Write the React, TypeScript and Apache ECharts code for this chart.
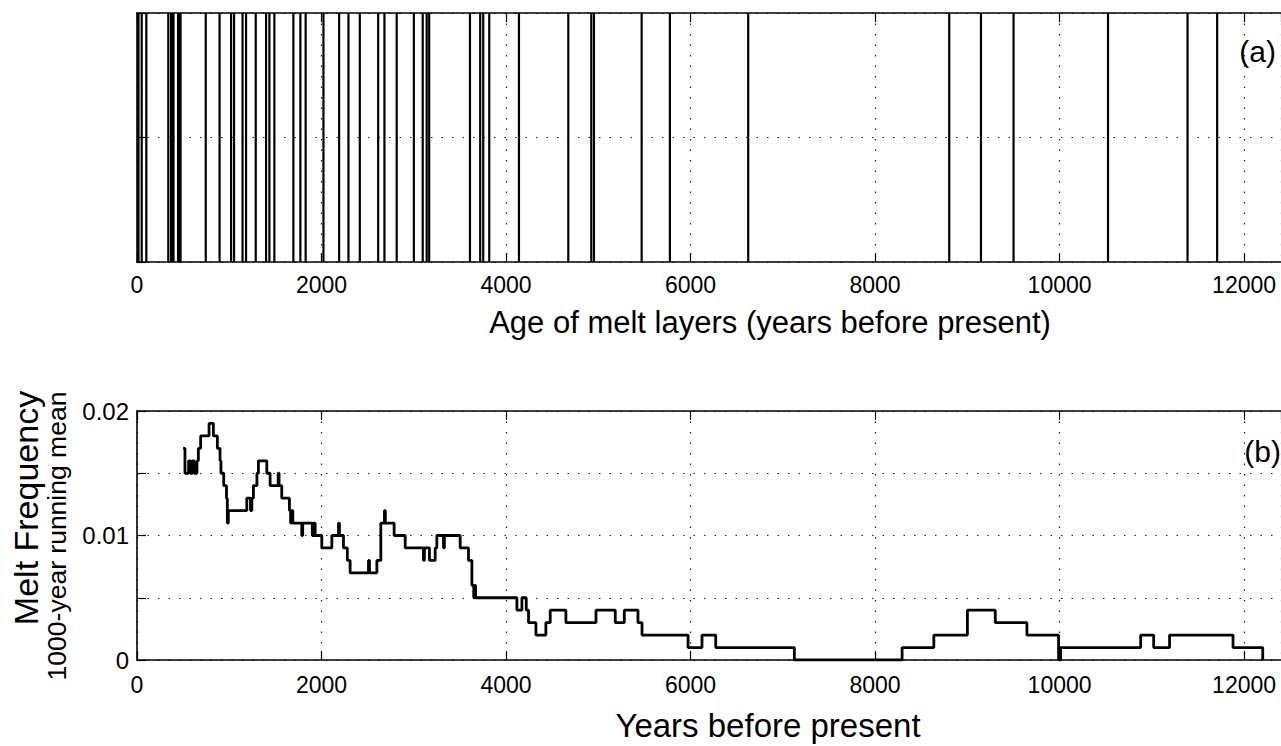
import React, { useEffect, useRef } from "react";
import * as echarts from "echarts";

// Ages (years before present) of individual melt layers (panel a)
const layerAges = [
  16, 51, 101, 339, 369, 382, 396, 445, 460, 472, 745, 895, 1020, 1052, 1144,
  1182, 1287, 1399, 1435, 1489, 1695, 1771, 1828, 2021, 2191, 2292, 2415,
  2614, 2682, 2815, 3001, 3097, 3140, 3167, 3609, 3720, 3753, 3818, 4140,
  4675, 4924, 4953, 5470, 5776, 6625, 8804, 9148, 9501, 10525, 11387, 11708,
];

// 1000-year running mean melt frequency (panel b): value holds from year onward
const stepYears = [
  500, 520, 560, 580, 600, 620, 650, 665, 690, 781, 828, 871, 900, 910, 940,
  970, 979, 990, 1190, 1230, 1245, 1262, 1300, 1316, 1407, 1443, 1530, 1540,
  1569, 1652, 1665, 1675, 1689, 1786, 1796, 1900, 1915, 1931, 2003, 2112,
  2184, 2194, 2238, 2280, 2310, 2509, 2520, 2600, 2643, 2682, 2692, 2787,
  2907, 3105, 3115, 3170, 3232, 3250, 3322, 3332, 3503, 3593, 3630, 3650,
  3660, 3670, 4118, 4172, 4219, 4244, 4324, 4432, 4479, 4649, 4975, 5184,
  5282, 5430, 5474, 5973, 6124, 6273, 7125, 8293, 8637, 9001, 9303, 9646,
  9989, 10011, 10879, 11020, 11192, 11880, 12202,
];
const stepValues = [
  0.017, 0.015, 0.016, 0.015, 0.016, 0.015, 0.016, 0.017, 0.018, 0.019,
  0.018, 0.017, 0.016, 0.015, 0.014, 0.013, 0.011, 0.012, 0.013, 0.012,
  0.013, 0.014, 0.015, 0.016, 0.015, 0.014, 0.015, 0.014, 0.013, 0.012,
  0.011, 0.012, 0.011, 0.01, 0.011, 0.01, 0.011, 0.01, 0.009, 0.01, 0.011,
  0.01, 0.009, 0.008, 0.007, 0.008, 0.007, 0.008, 0.011, 0.012, 0.011, 0.01,
  0.009, 0.008, 0.009, 0.008, 0.009, 0.01, 0.009, 0.01, 0.009, 0.008, 0.006,
  0.005, 0.006, 0.005, 0.004, 0.005, 0.004, 0.003, 0.002, 0.003, 0.004,
  0.003, 0.004, 0.003, 0.004, 0.003, 0.002, 0.001, 0.002, 0.001, 0, 0.001,
  0.002, 0.004, 0.003, 0.002, 0, 0.001, 0.002, 0.001, 0.002, 0.001, 0,
];

const xAxisMax = 12400;
const FONT = "'Liberation Sans', Arial, Helvetica, sans-serif";

export default function App() {
  const ref = useRef<HTMLDivElement>(null);
  useEffect(() => {
    if (!ref.current) return;
    const chart = echarts.init(ref.current, null, { renderer: "svg" });
    const axisLine = { show: true, lineStyle: { color: "#000", width: 1.6 } };
    const tickIn = { show: true, inside: true, length: 9, lineStyle: { color: "#000", width: 1.2 } };
    const dotted = { show: true, lineStyle: { color: "#222", width: 1.2, type: [1.5, 9] as any } };
    const xLabel = (margin: number) => ({
      color: "#000",
      fontSize: 23,
      fontFamily: FONT,
      margin,
      showMaxLabel: false,
      formatter: (v: number) => String(v),
    });
    const xBase = (gridIndex: number) => ({
      type: "value",
      gridIndex,
      min: 0,
      max: xAxisMax,
      interval: 2000,
      axisLine,
      axisTick: tickIn,
    });
    const option: any = {
      animation: false,
      backgroundColor: "#fff",
      grid: [
        { left: 137, right: 0, top: 13, height: 249, show: false },
        { left: 137, right: 0, top: 411, height: 249, show: false },
      ],
      xAxis: [
        { ...xBase(0), position: "bottom", axisLabel: xLabel(11), splitLine: dotted },
        { ...xBase(0), position: "top", axisLabel: { show: false }, splitLine: { show: false } },
        { ...xBase(1), position: "bottom", axisLabel: xLabel(13), splitLine: dotted },
        { ...xBase(1), position: "top", axisLabel: { show: false }, splitLine: { show: false } },
      ],
      yAxis: [
        {
          type: "value",
          gridIndex: 0,
          min: 0,
          max: 1,
          interval: 0.5,
          axisLine,
          axisTick: tickIn,
          axisLabel: { show: false },
          splitLine: dotted,
        },
        {
          type: "value",
          gridIndex: 1,
          min: 0,
          max: 0.02,
          interval: 0.005,
          axisLine,
          axisTick: tickIn,
          axisLabel: {
            color: "#000",
            fontSize: 24,
            fontFamily: FONT,
            margin: 8,
            formatter: (v: number) => {
              const k = Math.round(v * 1000);
              if (k % 10 !== 0) return "";
              return k === 0 ? "0" : (k / 1000).toFixed(2);
            },
          },
          splitLine: dotted,
        },
      ],
      graphic: [
        {
          type: "text",
          x: 770,
          y: 322,
          style: { text: "Age of melt layers (years before present)", font: `31px ${FONT}`, fill: "#000", textAlign: "center", textVerticalAlign: "middle" },
        },
        {
          type: "text",
          x: 768,
          y: 725,
          style: { text: "Years before present", font: `33px ${FONT}`, fill: "#000", textAlign: "center", textVerticalAlign: "middle" },
        },
        {
          type: "text",
          x: 1276,
          y: 51,
          style: { text: "(a)", font: `30px ${FONT}`, fill: "#000", textAlign: "right", textVerticalAlign: "middle" },
        },
        {
          type: "text",
          x: 1281,
          y: 451,
          style: { text: "(b)", font: `30px ${FONT}`, fill: "#000", textAlign: "right", textVerticalAlign: "middle" },
        },
        {
          type: "text",
          x: 26,
          y: 508,
          rotation: Math.PI / 2,
          style: { text: "Melt Frequency", font: `34px ${FONT}`, fill: "#000", textAlign: "center", textVerticalAlign: "middle" },
        },
        {
          type: "text",
          x: 57,
          y: 536,
          rotation: Math.PI / 2,
          style: { text: "1000-year running mean", font: `26.5px ${FONT}`, fill: "#000", textAlign: "center", textVerticalAlign: "middle" },
        },
      ],
      series: [
        {
          type: "custom",
          xAxisIndex: 0,
          yAxisIndex: 0,
          data: layerAges.map((a) => [a, 1]),
          renderItem: (params: any, api: any) => {
            const x = api.value(0);
            const p0 = api.coord([x, 0]);
            const p1 = api.coord([x, 1]);
            return {
              type: "line",
              shape: { x1: p0[0], y1: p0[1], x2: p1[0], y2: p1[1] },
              style: { stroke: "#000", lineWidth: 2.2 },
            };
          },
          silent: true,
        },
        {
          type: "line",
          xAxisIndex: 2,
          yAxisIndex: 1,
          step: "end",
          showSymbol: false,
          data: stepYears.map((y, i) => [y, stepValues[i]]),
          lineStyle: { color: "#000", width: 2.8 },
          silent: true,
        },
      ],
    };
    chart.setOption(option);
    return () => chart.dispose();
  }, []);
  return (
    <div
      ref={ref}
      style={{ position: "fixed", left: 0, top: 0, width: 1281, height: 746, background: "#fff" }}
    />
  );
}
